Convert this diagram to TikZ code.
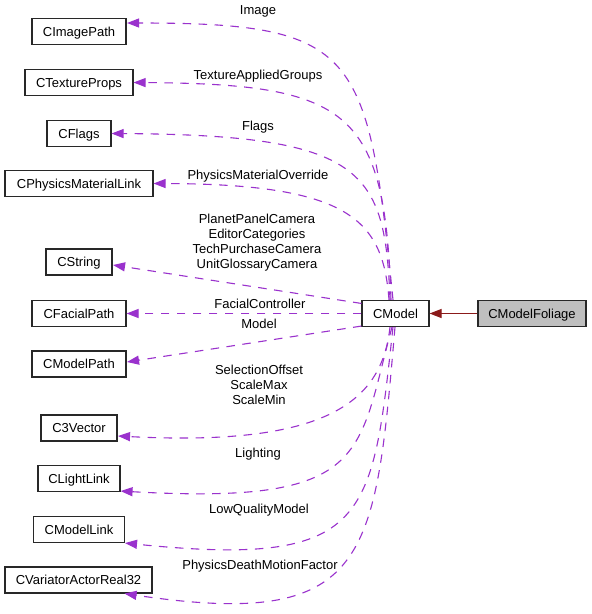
\documentclass[tikz,border=0pt]{standalone}
\usepackage{fontspec}
\setmainfont{Liberation Sans}
\usetikzlibrary{arrows.meta,calc}
\definecolor{depc}{RGB}{154,50,205}
\definecolor{inhc}{RGB}{139,26,26}
\definecolor{grayfill}{RGB}{191,191,191}
\definecolor{boxline}{RGB}{40,40,40}
\begin{document}
\begin{tikzpicture}[x=1pt,y=-1pt,
  cls/.style={draw=boxline, line width=1.1pt, minimum height=26pt, inner sep=0pt,
    text height=9.3pt, text depth=0pt,
    font=\fontsize{13}{15}\selectfont, fill=white},
  lbl/.style={align=center, inner sep=0pt, font=\fontsize{13}{15}\selectfont},
  depedge/.style={draw=depc, line width=1.1pt, dash pattern=on 8.5pt off 7.5pt,
    -{Triangle[length=12pt,width=9pt]}},
  inhedge/.style={draw=inhc, line width=1.1pt, -{Triangle[length=12pt,width=9pt]}}]
\fill[white] (0,0) rectangle (592,614);
\useasboundingbox (0,0) rectangle (592,614);

% class boxes
\node[cls, minimum width=94pt]  (imagepath) at (79,31.5)  {CImagePath};
\node[cls, minimum width=108pt] (texture)   at (79,82.5)  {CTextureProps};
\node[cls, minimum width=64pt]  (flags)     at (79,133.5) {CFlags};
\node[cls, minimum width=148pt] (physmat)   at (79,183.5) {CPhysicsMaterialLink};
\node[cls, minimum width=66pt]  (cstring)   at (79,262)   {CString};
\node[cls, minimum width=94pt]  (facial)    at (79,313.5) {CFacialPath};
\node[cls, minimum width=94pt]  (modelpath) at (79,364)   {CModelPath};
\node[cls, minimum width=76pt]  (c3vector)  at (79,428)   {C3Vector};
\node[cls, minimum width=82pt]  (lightlink) at (79,478.5) {CLightLink};
\node[cls, minimum width=91pt]  (modellink) at (79,529.5) {CModelLink};
\node[cls, minimum width=147pt] (variator)  at (78.5,580) {CVariatorActorReal32};
\node[cls, minimum width=67pt]  (cmodel)    at (395.5,313.5) {CModel};
\node[cls, minimum width=108pt, fill=grayfill] (foliage) at (532,313.5) {CModelFoliage};

% inheritance
\draw[inhedge] (foliage.west) -- (cmodel.east);

% usage edges (top)
\draw[depedge] ([xshift=-2.5pt]cmodel.north) .. controls (368,50) and (358,23) .. ($(imagepath.east)+(0.5,-8.5)$);
\draw[depedge] ([xshift=-4.5pt]cmodel.north) .. controls (385,110) and (350,84) .. (texture.east);
\draw[depedge] ([xshift=-5.5pt]cmodel.north) .. controls (385,170) and (365,135) .. (flags.east);
\draw[depedge] ([xshift=-6.5pt]cmodel.north) .. controls (383,220) and (350,184) .. (physmat.east);
\draw[depedge] ($(cmodel.north west)+(0,3.5)$) -- ($(cstring.east)+(0.5,3)$);
\draw[depedge] (cmodel.west) -- (facial.east);
\draw[depedge] ($(cmodel.south west)+(0,-1)$) -- ($(modelpath.east)+(0.5,-2)$);

% usage edges (bottom)
\draw[depedge] ([xshift=-5.5pt]cmodel.south) .. controls (382,400) and (330,447) .. ($(c3vector.east)+(0.5,8)$);
\draw[depedge] ([xshift=-3.5pt]cmodel.south) .. controls (357,456) and (370,505) .. ($(lightlink.south east)+(0,-1)$);
\draw[depedge] ([xshift=-2.5pt]cmodel.south) .. controls (372,520) and (370,568) .. (modellink.south east);
\draw[depedge] ([xshift=-0.5pt]cmodel.south) .. controls (375,560) and (370,630) .. ($(variator.south east)+(-28,0)$);

% labels
\node[lbl] (limage)   at (258,11)  {Image};
\node[lbl] (ltexture) at (258,76)  {TextureAppliedGroups};
\node[lbl] (lflags)   at (258,127) {Flags};
\node[lbl] (lphysmat) at (258,176) {PhysicsMaterialOverride};
\node[lbl] (lstring)  at (257,243) {PlanetPanelCamera\\EditorCategories\\TechPurchaseCamera\\UnitGlossaryCamera};
\node[lbl] (lfacial)  at (260,304) {FacialController};
\node[lbl] (lmodel)   at (259,324) {Model};
\node[lbl] (lvector)  at (259,385) {SelectionOffset\\ScaleMax\\ScaleMin};
\node[lbl] (llight)   at (258,454) {Lighting};
\node[lbl] (llowq)    at (259,510) {LowQualityModel};
\node[lbl] (lpdmf)    at (260,566) {PhysicsDeathMotionFactor};
\end{tikzpicture}
\end{document}
